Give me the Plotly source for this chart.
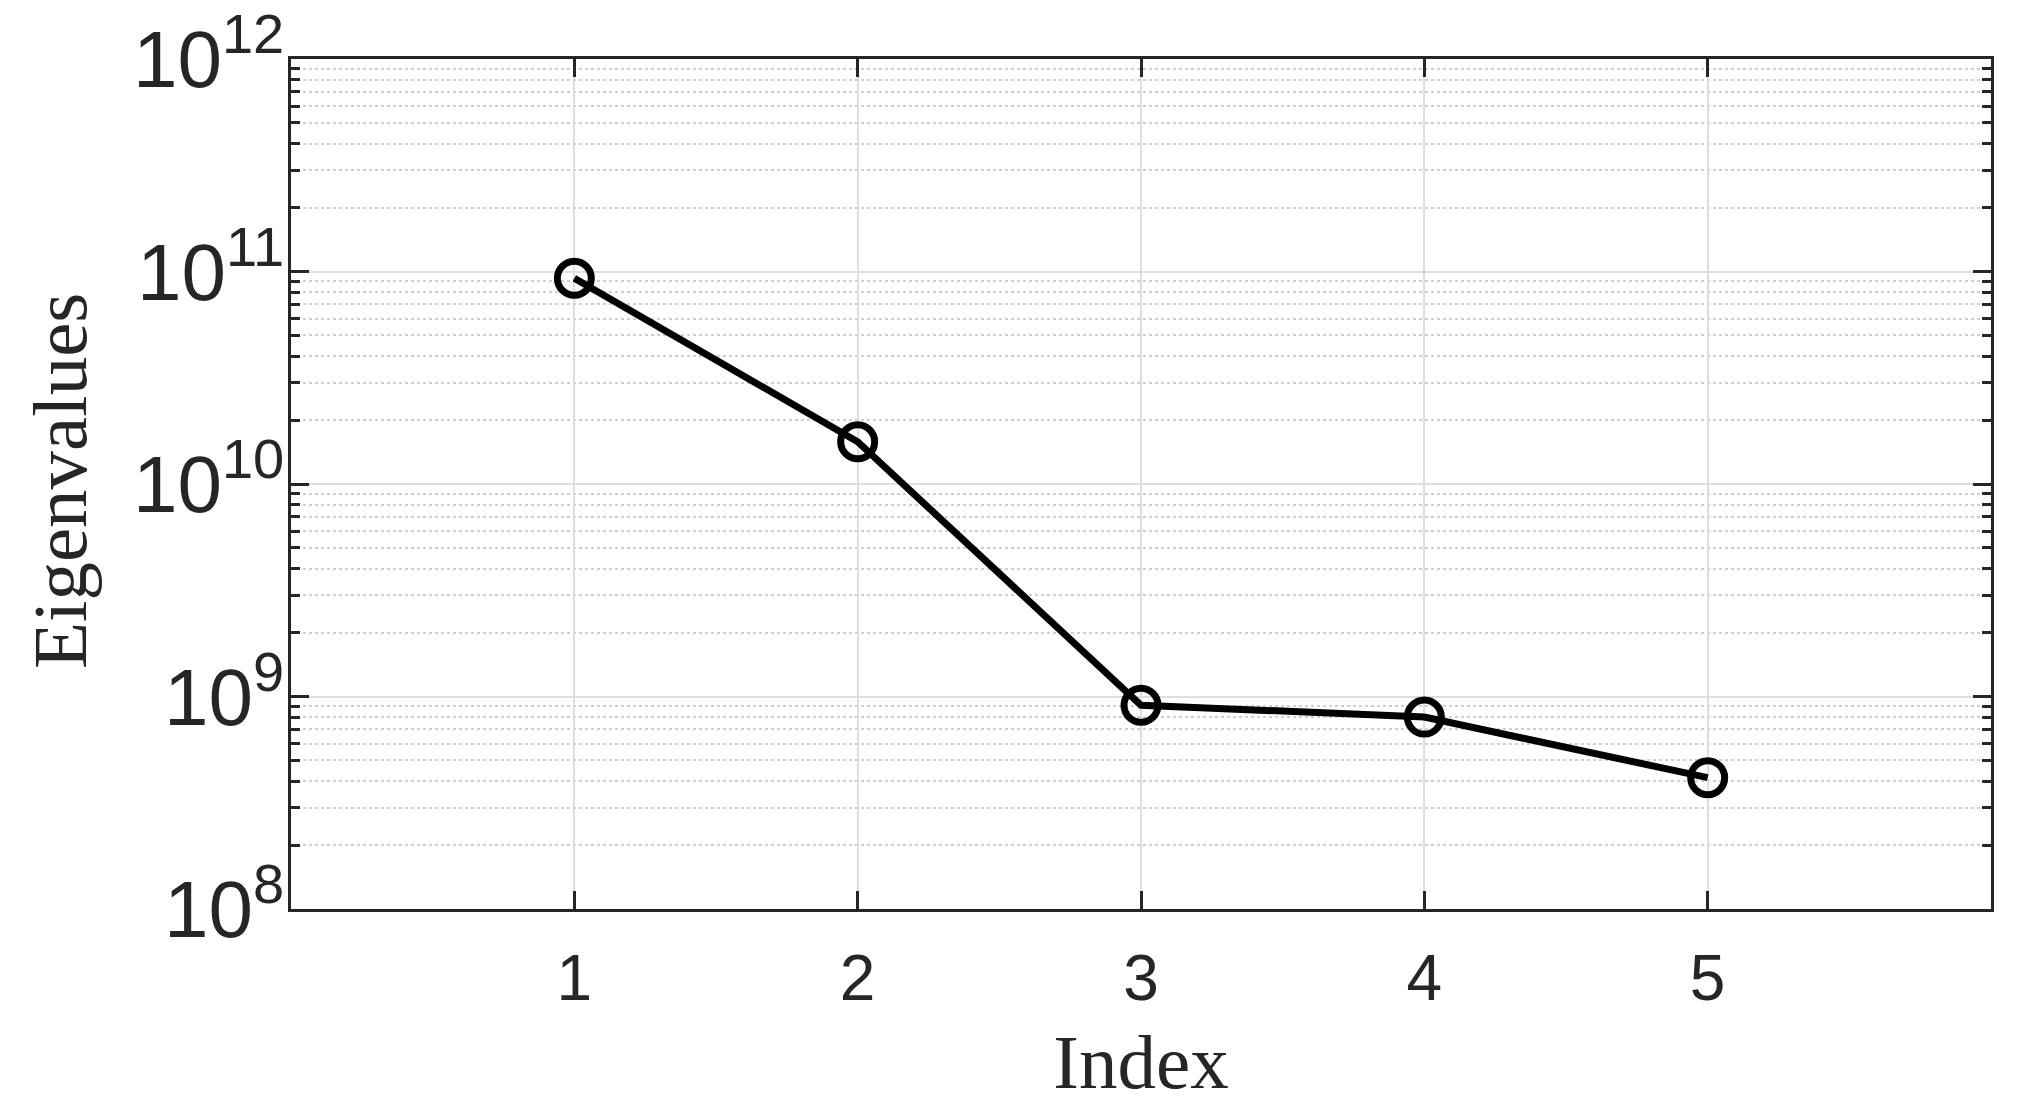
import plotly.graph_objects as go

index = [1, 2, 3, 4, 5]
eigenvalues = [9.3e10, 1.58e10, 9.1e8, 8.0e8, 4.15e8]
x_ticks = [1, 2, 3, 4, 5]

axis_color = "#262626"
tick_font = dict(family="Liberation Sans, Arial, sans-serif", size=64, color=axis_color)
title_font = dict(family="Liberation Serif, Times New Roman, serif", size=77, color=axis_color)

fig = go.Figure()
fig.add_trace(go.Scatter(
    x=index, y=eigenvalues, mode="lines+markers",
    line=dict(color="black", width=7),
    marker=dict(symbol="circle-open", size=34, color="black", line=dict(width=7, color="black")),
    showlegend=False,
))

# page body has an 8px default margin: shrink the figure so it fits the window
fig.update_layout(
    width=2003, height=1101,
    margin=dict(l=283, r=20, t=51, b=200),
    paper_bgcolor="white", plot_bgcolor="white",
    xaxis=dict(
        range=[0, 6], tickvals=x_ticks, ticktext=[str(v) for v in x_ticks],
        showgrid=True, gridcolor="#dedede", gridwidth=2,
        ticks="inside", ticklen=18, tickwidth=3, tickcolor=axis_color,
        showline=True, linecolor=axis_color, linewidth=3, mirror="allticks",
        tickfont=tick_font, zeroline=False, automargin=False, ticklabelstandoff=11,
        title=dict(text="Index", font=title_font, standoff=22),
    ),
    yaxis=dict(
        type="log", range=[8, 12], dtick=1, exponentformat="power",
        showgrid=True, gridcolor="#dedede", gridwidth=2,
        ticks="inside", ticklen=18, tickwidth=3, tickcolor=axis_color,
        showline=True, linecolor=axis_color, linewidth=3, mirror="allticks",
        tickfont=tick_font, zeroline=False, automargin=False, ticklabelstandoff=-9,
        ticklabeloverflow="allow",
        minor=dict(dtick="D1", ticks="inside", ticklen=9, tickwidth=3, tickcolor=axis_color,
                   showgrid=True, gridcolor="#cfcfcf", gridwidth=2, griddash="dot"),
    ),
    annotations=[dict(
        text="Eigenvalues", textangle=-90, font=title_font, showarrow=False,
        xref="paper", yref="paper", x=0, y=0.5, xanchor="center", yanchor="middle",
        xshift=-231, yshift=3,
    )],
)

fig.write_html("out.html")
